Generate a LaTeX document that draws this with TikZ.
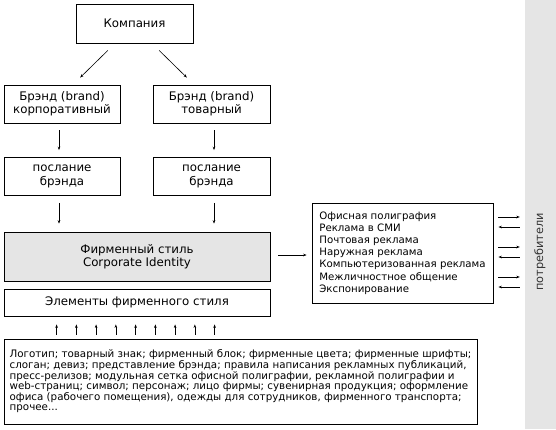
\documentclass[tikz,border=0pt]{standalone}
\usepackage{fontspec}
\setmainfont{DejaVu Sans}
\usetikzlibrary{arrows.meta,calc}
\begin{document}
\begin{tikzpicture}[x=1pt,y=-1pt,
  box/.style={draw=black, line width=0.8pt, inner sep=0pt, align=center,
    font=\fontsize{11.8}{13.3}\selectfont},
  smalltext/.style={font=\fontsize{10.2}{12.2}\selectfont},
  arr/.style={line width=0.6pt, -{Stealth[length=3.5pt,width=2.6pt]}},
]
\useasboundingbox (0,0) rectangle (556,429);
% consumer strip
\node[fill=black!10, minimum width=31pt, minimum height=429pt, inner sep=0pt] (strip) at (540.5,214.5) {};
\node[rotate=90, font=\fontsize{11.3}{12}\selectfont, text=black!80] (cons) at (540,252) {потребители};

\node[box, minimum width=117pt, minimum height=39pt] (komp) at (134.5,23.5) {Компания};
\node[box, minimum width=116pt, minimum height=38pt] (bl) at (62,104) {Брэнд (brand)\\корпоративный};
\node[box, minimum width=117pt, minimum height=38pt] (br) at (211.5,104) {Брэнд (brand)\\товарный};
\node[box, minimum width=116pt, minimum height=38pt] (ml) at (62,176.5) {послание\\брэнда};
\node[box, minimum width=117pt, minimum height=38pt] (mr) at (211.5,176.5) {послание\\брэнда};
\node[box, fill=black!10, minimum width=266pt, minimum height=49pt] (fs) at (137,256.5) {Фирменный стиль\\Corporate Identity};
\node[box, minimum width=266pt, minimum height=27pt] (el) at (137,302.5) {Элементы фирменного стиля};
\node[box, smalltext, minimum width=181pt, minimum height=100pt, align=left] (rb) at (402.5,253)
 {Офисная полиграфия\\Реклама в СМИ\\Почтовая реклама\\Наружная реклама\\Компьютеризованная реклама\\Межличностное общение\\Экспонирование};
\node[box, font=\fontsize{10.3}{10.6}\selectfont, minimum width=473pt, minimum height=85pt, align=left] (bot) at (240.5,381.5)
 {Логотип; товарный знак; фирменный блок; фирменные цвета; фирменные шрифты;\\
  слоган; девиз; представление брэнда; правила написания рекламных публикаций,\\
  пресс-релизов; модульная сетка офисной полиграфии, рекламной полиграфии и\\
  web-страниц; символ; персонаж; лицо фирмы; сувенирная продукция; оформление\\
  офиса (рабочего помещения), одежды для сотрудников, фирменного транспорта;\\
  прочее...};

% arrows
\draw[arr, shorten <=10pt, shorten >=10pt] ([xshift=-19.5pt]komp.south) -- ([xshift=11pt]bl.north);
\draw[arr, shorten <=10pt, shorten >=10pt] ([xshift=17.5pt]komp.south) -- ([xshift=-17.5pt]br.north);
\draw[arr, shorten <=7pt, shorten >=7pt] ([xshift=-3pt]bl.south) -- ([xshift=-3pt]ml.north);
\draw[arr, shorten <=7pt, shorten >=7pt] ([xshift=2.5pt]br.south) -- ([xshift=2.5pt]mr.north);
\draw[arr, shorten <=7pt, shorten >=8pt] ([xshift=-3pt]ml.south) -- ([xshift=-78pt]fs.north);
\draw[arr, shorten <=7pt, shorten >=8pt] ([xshift=2.5pt]mr.south) -- ([xshift=77pt]fs.north);
\draw[arr, shorten <=8pt, shorten >=5pt] ([yshift=1.5pt]fs.east) -- ([yshift=-2pt]rb.west);
\foreach \i in {0,...,8} {
  \draw[arr, shorten <=4pt, shorten >=8pt] ($(bot.north west)+(53+19.75*\i,0)$) -- ($(el.south west)+(53+19.75*\i,0)$);
}
\foreach \dy in {36,6,-24} {
  \draw[arr, shorten <=5pt, shorten >=5pt] ([yshift=\dy pt]rb.east) -- ([yshift=\dy pt]rb.east -| strip.west);
}
\foreach \dy in {26,-4,-34} {
  \draw[arr, shorten <=5pt, shorten >=5pt] ([yshift=\dy pt]rb.east -| strip.west) -- ([yshift=\dy pt]rb.east);
}
\end{tikzpicture}
\end{document}
